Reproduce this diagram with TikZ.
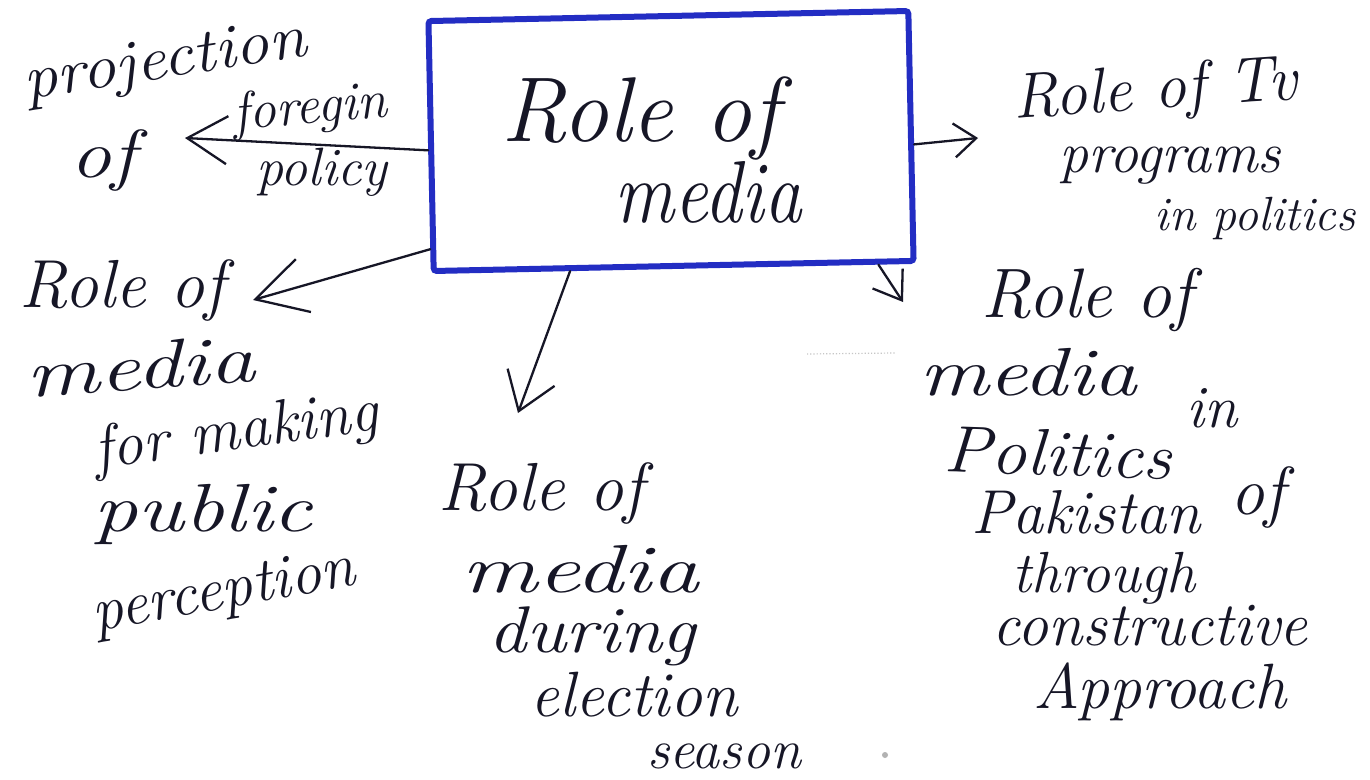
\documentclass[tikz,border=0pt]{standalone}
\usepackage{fontspec}
\usepackage{graphicx}
\usetikzlibrary{arrows.meta}
\definecolor{ink}{RGB}{22,22,38}
\definecolor{boxblue}{RGB}{35,45,195}
\newcommand{\hsx}[2]{\scalebox{#1}[1]{#2}}
\tikzset{
  hw/.style={font=\fontsize{#1}{#1}\selectfont\itshape, text=ink, inner sep=0pt, anchor=center},
  hw/.default=64,
  link/.style={draw=ink, line width=2.3pt, line cap=round, -{Straight Barb[#1, line width=2.3pt]}},
  link/.default={length=34pt,width=46pt},
  corebox/.style={draw=boxblue, line width=6pt, rounded corners=3pt, minimum width=480pt, minimum height=250pt, inner sep=0pt}
}
\begin{document}
\begin{tikzpicture}[x=1pt,y=-1pt]
\useasboundingbox (0,0) rectangle (1370,779);
\fill[white] (0,0) rectangle (1370,779);

% central box
\node[corebox, rotate=1.2] (core) at (671,141) {};
\node[hw=92] (t1) at (640,118) {Role of};
\node[hw=88] (t2) at (708,192) {\hsx{0.85}{media}};

% top left: projection of foregin policy
\node[hw=62, rotate=9] (pa) at (165,64) {\hsx{1.1}{projection}};
\node[hw=68] (pb) at (103,160) {\hsx{1.2}{of}};
\node[hw=54, rotate=5] (pc) at (310,110) {foregin};
\node[hw=54] (pd) at (322,172) {policy};
\coordinate (tipA) at (185,138);
\draw[link={length=40pt,width=48pt}] (core.181) -- (tipA);

% top right: Role of Tv programs in politics
\node[hw=64, rotate=4] (ra) at (1155,93) {Role of Tv};
\node[hw=58] (rb) at (1170,166) {programs};
\node[hw=48] (rc) at (1255,218) {in politics};
\coordinate (tipB) at (978,138);
\draw[link={length=22pt,width=34pt}] (core.358) -- (tipB);

% left: Role of media for making public perception
\node[hw=68] (la) at (122,290) {Role of};
\node[hw=68, rotate=4] (lb) at (140,366) {\hsx{1.35}{media}};
\node[hw=62, rotate=8] (lc) at (236,434) {for making};
\node[hw=68] (ld) at (203,514) {\hsx{1.3}{public}};
\node[hw=62, rotate=10] (le) at (224,594) {perception};
\coordinate (tipC) at (253,300);
\draw[link={length=50pt,width=55pt}] (core.203) -- (tipC);

% middle: Role of media during election season
\node[hw=68] (ma) at (541,493) {Role of};
\node[hw=68] (mb) at (580,569) {\hsx{1.4}{media}};
\node[hw=66] (mc) at (592,636) {\hsx{1.15}{during}};
\node[hw=64] (md) at (634,695) {election};
\node[hw=56] (me) at (724,756) {season};
\coordinate (tipD) at (518,413);
\draw[link={length=36pt,width=50pt}] (core.231) -- (tipD);

% right: Role of media in Politics of Pakistan through constructive Approach
\node[hw=70] (sa) at (1087,300) {Role of};
\node[hw=68] (sb) at (1028,372) {\hsx{1.28}{media}};
\node[hw=60] (sc) at (1212,408) {in};
\node[hw=66, rotate=-2] (sd) at (1058,453) {\hsx{1.08}{Politics}};
\node[hw=68] (se) at (1258,497) {of};
\node[hw=62] (sf) at (1086,512) {Pakistan};
\node[hw=58] (sg) at (1104,578) {through};
\node[hw=62] (sh) at (1150,626) {constructive};
\node[hw=64] (si) at (1160,692) {Approach};
\coordinate (tipE) at (903,302);
\draw[link={length=26pt,width=36pt}] (core.328) -- (tipE);

% faint scan marks
\draw[gray!45, line width=1.2pt, dotted] (807,354) -- (895,353);
\fill[gray!60] (885,755) circle (3pt);
\end{tikzpicture}
\end{document}
